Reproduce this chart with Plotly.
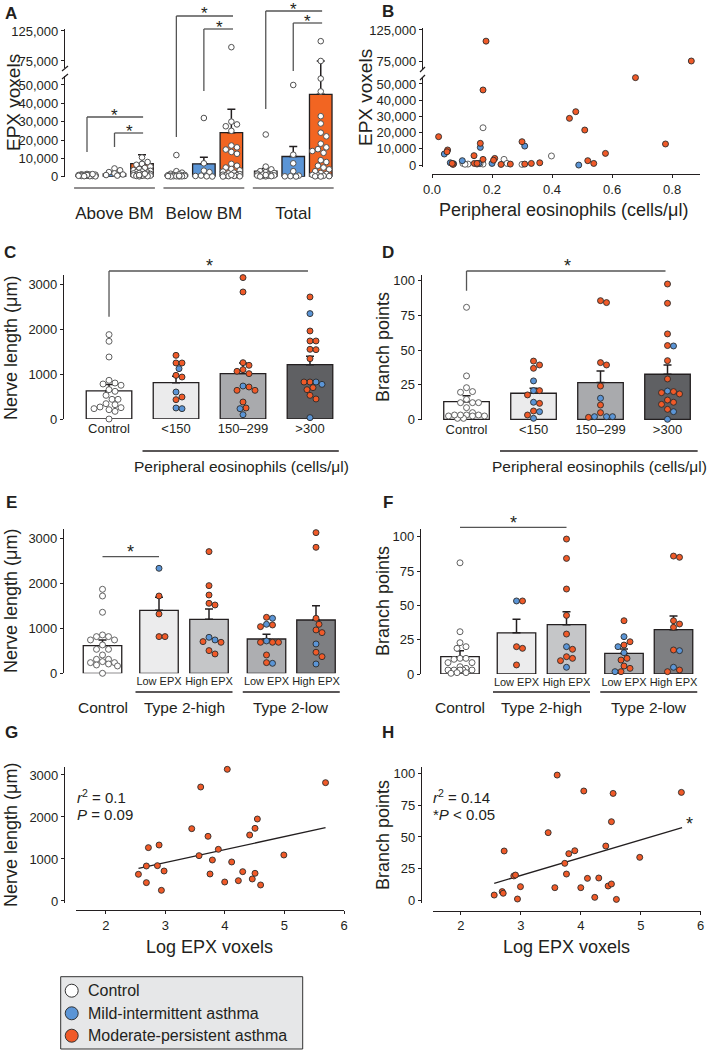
import plotly.graph_objects as go

W, H = 709, 1050
def X(px): return px / W
def Y(py): return 1 - py / H

FONT = "Liberation Sans, Arial, Helvetica, sans-serif"
INK = "#231f20"
BRK = "#555555"
RED = "#f05a28"
BLUE = "#5b95d6"
COL = {"w": "#ffffff", "b": BLUE, "r": RED}
EDG = {"w": "#505050", "b": "#2b2b2b", "r": "#2b2b2b"}

# ======================= DATA =======================
# Panel A: EPX voxels (mean, SEM) per region x group
a_groups = ["Above BM", "Below BM", "Total"]
a_series = ["Control", "Mild-intermittent asthma", "Moderate-persistent asthma"]
a_mean = [[700, 1500, 7100], [1000, 7000, 24000], [3000, 11000, 44900]]
a_sem = [[300, 600, 4900], [1000, 3600, 12800], [1500, 5500, 30100]]
a_above_ctrl = [1500, 1200, 1000, 900, 800, 700, 600, 500, 400, 300, 1300, 1100, 800, 600, 400, 200, 1400, 900, 500, 300]
a_above_mild = [4500, 3500, 2500, 1800, 1200, 900, 600]
a_above_mod = [10500, 8000, 7000, 6500, 5500, 4800, 4200, 3600, 3200, 2800, 2500, 2200, 2000, 1800, 1500,
               1300, 1100, 1000, 800, 700, 600, 500, 400, 300, 200, 900, 1600]
a_below_ctrl = [11800, 3000, 2200, 1600, 1300, 1000, 900, 800, 700, 600, 500, 400, 300, 250, 200, 150, 100, 500, 300]
a_below_mild = [32000, 7300, 3300, 2500, 600, 400, 200, 100]
a_below_mod = [98000, 30000, 28500, 27500, 25000, 17000, 16000, 14800, 13500, 12500, 7000, 6000, 5000, 4200, 3500,
               2800, 2200, 1800, 1400, 1100, 800, 600, 400, 300, 200, 100, 1000]
a_total_ctrl = [23000, 5500, 4000, 3000, 2500, 2000, 1600, 1300, 1000, 800, 700, 600, 500, 400, 300, 200, 1200, 900, 100]
a_total_mild = [50000, 12000, 7300, 3000, 600, 300, 200, 100]
a_total_mod = [108000, 75000, 53500, 46500, 33000, 29000, 24000, 22000, 18000, 16000, 15000, 14000, 13000, 9000,
               8000, 6000, 5000, 4000, 3000, 2000, 1500, 1000, 700, 500, 300, 200, 100]
a_points = [[a_above_ctrl, a_above_mild, a_above_mod],
            [a_below_ctrl, a_below_mild, a_below_mod],
            [a_total_ctrl, a_total_mild, a_total_mod]]

# Panel B: peripheral eosinophils vs EPX voxels
b_x = [0.022, 0.052, 0.05, 0.07, 0.067, 0.14, 0.141, 0.15, 0.161, 0.17, 0.17, 0.18, 0.209, 0.205, 0.23, 0.261,
       0.30, 0.309, 0.331, 0.359, 0.458, 0.479, 0.509, 0.519, 0.539, 0.578, 0.678, 0.778, 0.864,
       0.041, 0.061, 0.101, 0.161, 0.2, 0.309, 0.489, 0.156, 0.072,
       0.17, 0.398, 0.24, 0.25, 0.12, 0.103, 0.17, 0.3, 0.15, 0.11, 0.16]
b_y = [17500, 9300, 8200, 400, 1000, 5800, 1000, 1000, 13400, 3500, 46300, 107000, 4100, 3000, 400, 600,
       14400, 600, 1000, 1400, 28800, 32900, 21600, 2700, 1000, 7200, 53900, 13000, 75000,
       6800, 1400, 2700, 10900, 1000, 11700, 0, 1000, 800,
       23000, 5600, 3500, 1000, 600, 1000, 600, 400, 600, 500, 800]
b_grp = ["r"] * 29 + ["b"] * 9 + ["w"] * 11

# Panel C: nerve length by peripheral eosinophils
c_cats = ["Control", "<150", "150–299", ">300"]
c_mean = [625, 808, 1009, 1208]
c_sem = [140, 142, 236, 185]
c_vals = [
    [1875, 1727, 1378, 860, 800, 778, 750, 652, 615, 526, 437, 437, 341, 318, 267, 252, 230, 207, 170, 0],
    [1415, 1245, 1245, 1119, 970, 933, 600, 489, 430, 245, 230],
    [3142, 2823, 1252, 1193, 1097, 1060, 1008, 733, 711, 637, 637, 378, 245, 230, 96],
    [2712, 2342, 1956, 1734, 1734, 1549, 1541, 1341, 822, 822, 770, 822, 697, 652, 526, 445, 30]]
c_grp = [
    ["w"] * 20,
    list("rrrbrrbrrbb"),
    list("rrrrrrrbrrrrrbb"),
    list("rbrrrrrrrbbrrrrrb")]

# Panel D: branch points by peripheral eosinophils
d_mean = [12.7, 18.8, 26.5, 32.5]
d_sem = [4.3, 3.6, 8.4, 6.7]
d_vals = [
    [80.8, 31.3, 22.8, 20, 19.5, 14.4, 12, 12, 12, 8.4, 4.8, 3.1, 2.4, 2.4, 0.7, 0.7, 2.4, 3.1, 3.1, 3.1],
    [42, 39.2, 36.8, 27.7, 20.7, 20.7, 17.6, 11.5, 12.3, 6, 5.5, 3.1, 0.7],
    [84.2, 85.6, 40.9, 39.2, 24, 15.2, 10.3, 4.8, 1.9, 1.4, 1.9, 1.9],
    [97.6, 83.7, 61.6, 52.9, 53.2, 42.3, 29.1, 20.4, 19.2, 18.3, 20, 13.9, 12.3, 10.8, 7.2, 5.5, 0]]
d_grp = [
    ["w"] * 20,
    list("rrrbbrrrbrbrb"),
    list("rrrrrbrrbrbb"),
    list("rrrbrrrbrrrrrrrbb")]

# Panels E/F: by type-2 status and EPX
e_groups = ["Control", "Type 2-high", "Type 2-low"]
e_sub = ["Low EPX", "High EPX", "Low EPX", "High EPX"]
e_mean = [614, 1400, 1200, 762, 1184]
e_sem = [126, 289, 229, 105, 318]
e_vals = [
    [1867, 1718, 1356, 852, 815, 815, 741, 741, 630, 533, 533, 407, 311, 311, 237, 207, 185, 237, 259, 163, 0],
    [2333, 1718, 1318, 815, 815],
    [2704, 1948, 1740, 1555, 1518, 800, 741, 704, 689, 504, 430],
    [1244, 1222, 1074, 1089, 1037, 689, 719, 689, 689, 407, 222, 237],
    [3126, 2800, 1222, 1089, 963, 904, 652, 467, 370, 207]]
e_grp = [
    ["w"] * 21,
    list("brrrr"),
    list("rrrrrbbrrrr"),
    list("rbrbrrbrrrbr"),
    list("rrrrrrbrrb")]

f_mean = [12.6, 30, 35.9, 15, 32.3]
f_sem = [4.4, 9.8, 9.5, 3.2, 9.9]
f_vals = [
    [81, 30.8, 22.8, 19.9, 18.7, 11.4, 11.4, 10.7, 8.3, 8.3, 5.3, 4.1, 2.9, 2.9, 2.9, 2.9, 2.9, 1, 1, 0.5],
    [53.2, 53.2, 19.9, 18.7, 6.6],
    [98.3, 84.2, 61.9, 42.7, 29.1, 19.9, 18, 12.6, 11.4, 9.7, 4.9],
    [38.8, 27.2, 23.5, 21.1, 19.9, 15.5, 11.4, 10.2, 5.8, 4.1, 1.7, 1.7],
    [85.9, 85, 38.8, 36.4, 34, 17.5, 17, 4.9, 2.9, 1.7]]
f_grp = [
    ["w"] * 20,
    list("brrrr"),
    list("rrrrrbrrrrb"),
    list("rbrrbbrrrrrb"),
    list("rrrrrrbbrr")]

# Panels G/H: log EPX voxels vs nerve length / branch points (moderate-persistent)
g_x = [2.548, 2.682, 2.682, 2.716, 2.867, 2.895, 2.934, 2.979, 3.443, 3.566, 3.594, 3.717, 3.75, 3.79, 3.89,
       3.997, 4.04, 4.114, 4.226, 4.299, 4.416, 4.46, 4.506, 4.506, 4.545, 4.6, 4.99, 5.69]
g_y = [635, 833, 437, 1270, 841, 1333, 254, 714, 1722, 1079, 2714, 1540, 643, 976, 1230,
       452, 3135, 929, 484, 698, 1571, 524, 659, 1730, 1952, 381, 1095, 2817]
g_fit_x = [2.55, 5.69]
g_fit_y = [778, 1745]
h_x = [2.556, 2.689, 2.706, 2.722, 2.883, 2.911, 2.944, 2.994, 3.456, 3.567, 3.606, 3.733, 3.761, 3.8, 3.9,
       4.0, 4.05, 4.111, 4.233, 4.3, 4.417, 4.456, 4.511, 4.511, 4.539, 4.594, 4.983, 5.678]
h_y = [4.4, 7.1, 5.8, 39, 19.4, 20.1, 1.3, 11, 53.4, 10.2, 98.6, 29.3, 20.9, 36.9, 39.2,
       10.2, 86.1, 17.5, 2.6, 17.8, 42.9, 11.5, 13.1, 62, 84.2, 1, 34, 85]
h_fit_x = [2.556, 5.69]
h_fit_y = [13.6, 57.3]

# ======================= LAYOUT HELPERS =======================
A_POS = [[0, 1, 2], [3.25, 4.25, 5.25], [6.5, 7.5, 8.5]]
A_BAR_COL = ["#ffffff", BLUE, "#f26522"]
C_BAR_COL = ["#ffffff", "#ebebec", "#a9aaad", "#5f6063"]
E_POS = [0, 1.13, 2.13, 3.28, 4.27]
E_BAR_COL = ["#ffffff", "#ececed", "#c5c6c8", "#adaeb1", "#7e7f82"]

fig = go.Figure()
shapes, annotations = [], []


def swarm(vals, ppv, ppx, d=6.0, max_off=15):
    placed, offs = [], [0.0] * len(vals)
    step = d * 0.5
    cands = [0.0]
    j = 1
    while j * step <= max_off:
        cands += [j * step, -j * step]
        j += 1
    for i in sorted(range(len(vals)), key=lambda k: -vals[k]):
        y = vals[i] * ppv
        best, bestd = 0.0, -1.0
        for xo in cands:
            md = min([((xo - p) ** 2 + (y - q) ** 2) ** 0.5 for p, q in placed], default=1e9)
            if md >= d:
                best = xo
                break
            if md > bestd:
                best, bestd = xo, md
        placed.append((best, y))
        offs[i] = best / ppx
    return offs


def line(x0, y0, x1, y1, xref="paper", color=INK, width=1.2):
    if xref == "paper":
        x0, x1 = X(x0), X(x1)
    shapes.append(dict(type="line", xref=xref, yref="paper", x0=x0, x1=x1, y0=Y(y0), y1=Y(y1),
                       line=dict(color=color, width=width)))


def text(t, x, y, size=13, xref="paper", xanchor="center", yanchor="middle", angle=0, bold=False):
    if xref == "paper":
        x = X(x)
    if bold:
        t = "<b>%s</b>" % t
    annotations.append(dict(text=t, x=x, y=Y(y), xref=xref, yref="paper", xanchor=xanchor, yanchor=yanchor,
                            textangle=angle, showarrow=False, font=dict(size=size, family=FONT, color=INK)))


def star(x, y, xref, size=18):
    text("*", x, y + 4, size=size, xref=xref)


def add_bars(xa, ya, pos, means, sems, cols, width, cap=4):
    fig.add_trace(go.Bar(x=pos, y=means, width=width, xaxis=xa, yaxis=ya, showlegend=False, hoverinfo="skip",
                         marker=dict(color=cols, line=dict(color=INK, width=1.3)),
                         error_y=dict(type="data", symmetric=False, array=sems, arrayminus=[0] * len(sems),
                                      color=INK, thickness=1.5, width=cap)))


def add_points(xa, ya, xs, ys, grp, size=6):
    fig.add_trace(go.Scatter(x=xs, y=ys, mode="markers", xaxis=xa, yaxis=ya, showlegend=False,
                             hoverinfo="skip", cliponaxis=False,
                             marker=dict(size=size, color=[COL[g] for g in grp],
                                         line=dict(color=[EDG[g] for g in grp], width=0.9))))


def swarm_panel(xa, ya, pos, vals, grps, ppv, ppx, max_off):
    for p, v, g in zip(pos, vals, grps):
        offs = swarm(v, ppv, ppx, max_off=max_off)
        add_points(xa, ya, [p + o for o in offs], v, g)


AX = dict(showgrid=False, zeroline=False, showline=True, linecolor=INK, linewidth=1.2, ticks="outside",
          ticklen=3, tickwidth=1.2, tickcolor=INK, automargin=False, tickangle=0,
          tickfont=dict(size=13, family=FONT, color=INK))


def axis(**kw):
    d = dict(AX)
    d.update(kw)
    return d

# ======================= PANEL A =======================
A_LOW = [0, 54900]
A_HIGH = [63300, 128300]
a_pos_flat = [p for row in A_POS for p in row]
a_mean_flat = [m for row in a_mean for m in row]
a_sem_flat = [s for row in a_sem for s in row]
a_cols_flat = A_BAR_COL * 3
add_bars("x", "y", a_pos_flat, a_mean_flat, a_sem_flat, a_cols_flat, 0.82)
add_bars("x", "y2", a_pos_flat, a_mean_flat, a_sem_flat, a_cols_flat, 0.82)
for gi in range(3):
    for si in range(3):
        v = a_points[gi][si]
        offs = swarm(v, 1.82 / 1000, 27.5, d=5.6, max_off=10)
        xs = [A_POS[gi][si] + o for o in offs]
        lo = [(x, y) for x, y in zip(xs, v) if y < 60000]
        hi = [(x, y) for x, y in zip(xs, v) if y >= 60000]
        for pts, ya in ((lo, "y"), (hi, "y2")):
            if pts:
                fig.add_trace(go.Scatter(x=[p[0] for p in pts], y=[p[1] for p in pts], mode="markers",
                                         xaxis="x", yaxis=ya, showlegend=False, hoverinfo="skip",
                                         cliponaxis=False,
                                         marker=dict(size=5.6, color="#ffffff", line=dict(color="#505050", width=1))))
        # error bar continuing across the axis break
        if a_mean[gi][si] + a_sem[gi][si] > A_LOW[1]:
            line(A_POS[gi][si], 76, A_POS[gi][si], 68, xref="x", width=1.5)

# group underlines and significance brackets
for gi in range(3):
    c = A_POS[gi][1]
    line(c - 1.47, 188, c + 1.47, 188, xref="x", color=INK, width=1.2)
for (xa_, xb_, ylow, ytop, sx, sy) in [(0, 2.04, 152, 117, 1.0, 111), (1, 2.04, 147, 133, 1.55, 128),
                                       (3.25, 5.31, 137, 16, 4.29, 10), (4.25, 5.31, 91, 29, 4.8, 24),
                                       (6.5, 8.55, 109, 11, 7.5, 6), (7.5, 8.55, 71, 23, 8.0, 18)]:
    line(xa_, ylow, xa_, ytop, xref="x", color=BRK, width=1.3)
    line(xa_, ytop, xb_, ytop, xref="x", color=BRK, width=1.3)
    star(sx, sy, "x", size=17)
# axis break marks
line(62, 79, 68, 74, width=1.2)
line(62, 71, 68, 66, width=1.2)

text("A", 11, 13, size=17, bold=True)
text("EPX voxels", 13, 103, size=19, angle=-90)

# ======================= PANEL B =======================
for g in ("w", "b", "r"):
    idx = [i for i, gg in enumerate(b_grp) if gg == g]
    lo = [i for i in idx if b_y[i] < 60000]
    hi = [i for i in idx if b_y[i] >= 60000]
    for sel, ya in ((lo, "y3"), (hi, "y4")):
        if sel:
            add_points("x2", ya, [b_x[i] for i in sel], [b_y[i] for i in sel], [g] * len(sel))
line(420, 80, 425, 75, width=1.2)
line(420, 72, 425, 67, width=1.2)
text("B", 388, 11, size=17, bold=True)
text("EPX voxels", 365, 98, size=19, angle=-90)
text("Peripheral eosinophils (cells/μl)", 563, 210, size=18)

# ======================= PANEL C =======================
C_POS = [0, 1, 2, 3]
add_bars("x3", "y5", C_POS, c_mean, c_sem, C_BAR_COL, 0.68)
swarm_panel("x3", "y5", C_POS, c_vals, c_grp, 0.045, 67, 18)
line(0, 316.7, 0, 271, xref="x3", color=BRK, width=1.3)
line(0, 271, 2.97, 271, xref="x3", color=BRK, width=1.3)
star(1.5, 262, "x3")
line(0.5, 451, 3.43, 451, xref="x3", width=1.5)
text("Peripheral eosinophils (cells/μl)", 1.98, 466, size=15.5, xref="x3")
text("C", 10, 252, size=17, bold=True)
text("Nerve length (μm)", 11, 348, size=18, angle=-90)

# ======================= PANEL D =======================
add_bars("x4", "y6", C_POS, d_mean, d_sem, C_BAR_COL, 0.68)
swarm_panel("x4", "y6", C_POS, d_vals, d_grp, 1.386, 67, 18)
line(0, 290.7, 0, 271, xref="x4", color=BRK, width=1.3)
line(0, 271, 2.97, 271, xref="x4", color=BRK, width=1.3)
star(1.51, 262, "x4")
line(0.5, 451, 3.45, 451, xref="x4", width=1.5)
text("Peripheral eosinophils (cells/μl)", 1.99, 466, size=15.5, xref="x4")
text("D", 388, 253, size=17, bold=True)
text("Branch points", 383, 347, size=18, angle=-90)

# ======================= PANEL E =======================
add_bars("x5", "y7", E_POS, e_mean, e_sem, E_BAR_COL, 0.77)
swarm_panel("x5", "y7", E_POS, e_vals, e_grp, 0.045, 50, 15)
line(0, 556.7, 1.13, 556.7, xref="x5", color=BRK, width=1.3)
star(0.55, 548, "x5")
text("E", 11, 502, size=17, bold=True)
text("Nerve length (μm)", 11, 601, size=18, angle=-90)

# ======================= PANEL F =======================
add_bars("x6", "y8", E_POS, f_mean, f_sem, E_BAR_COL, 0.77)
swarm_panel("x6", "y8", E_POS, f_vals, f_grp, 1.373, 50, 15)
line(0, 527.3, 2.13, 527.3, xref="x6", color=BRK, width=1.3)
star(1.06, 519, "x6")
text("F", 388, 502, size=17, bold=True)
text("Branch points", 383, 601, size=18, angle=-90)

for xa_ in ("x5", "x6"):
    centers = [E_POS[0], (E_POS[1] + E_POS[2]) / 2, (E_POS[3] + E_POS[4]) / 2]
    for k, (name, cx) in enumerate(zip(e_groups, centers)):
        if k > 0:
            line(cx - 0.97, 692, cx + 0.97, 692, xref=xa_, width=1.5)
        text(name, cx, 707, size=15.5, xref=xa_)

# ======================= PANEL G =======================
fig.add_trace(go.Scatter(x=g_fit_x, y=g_fit_y, mode="lines", xaxis="x7", yaxis="y9", showlegend=False,
                         hoverinfo="skip", line=dict(color=INK, width=1.3)))
add_points("x7", "y9", g_x, g_y, ["r"] * len(g_x))
text("<i>r</i><sup>2</sup> = 0.1", 75, 796, size=15, xanchor="left")
text("<i>P</i> = 0.09", 75, 814, size=15, xanchor="left")
text("G", 11, 732, size=17, bold=True)
text("Nerve length (μm)", 11, 835, size=18, angle=-90)
text("Log EPX voxels", 209, 947, size=18)

# ======================= PANEL H =======================
fig.add_trace(go.Scatter(x=h_fit_x, y=h_fit_y, mode="lines", xaxis="x8", yaxis="y10", showlegend=False,
                         hoverinfo="skip", line=dict(color=INK, width=1.3)))
add_points("x8", "y10", h_x, h_y, ["r"] * len(h_x))
text("<i>r</i><sup>2</sup> = 0.14", 431, 796, size=15, xanchor="left")
text("*<i>P</i> &lt; 0.05", 431, 814, size=15, xanchor="left")
star(689, 820, "paper")
text("H", 388, 732, size=17, bold=True)
text("Branch points", 383, 835, size=18, angle=-90)
text("Log EPX voxels", 566, 947, size=18)

# ======================= LEGEND (drawn) =======================
shapes.append(dict(type="rect", xref="paper", yref="paper", x0=X(60.7), x1=X(302.7), y0=Y(1049), y1=Y(976.7),
                   fillcolor="#e6e7e8", line=dict(color="#333333", width=1)))
leg_fill = ["#ffffff", BLUE, RED]
for k, (name, yy) in enumerate(zip(a_series, [990.7, 1013.3, 1035.7])):
    r = 6.5
    shapes.append(dict(type="circle", xref="paper", yref="paper", x0=X(71.7 - r), x1=X(71.7 + r),
                       y0=Y(yy + r), y1=Y(yy - r), fillcolor=leg_fill[k], line=dict(color="#333333", width=1)))
    text(name, 86, yy, size=16, xanchor="left")

# ======================= AXES =======================
layout_axes = dict(
    # A
    xaxis=axis(domain=[X(65), X(340)], range=[-0.8, 9.2], anchor="y", showline=False, ticks="",
               tickvals=[A_POS[i][1] for i in range(3)], ticktext=a_groups, ticklabelstandoff=24,
               tickfont=dict(size=17, family=FONT, color=INK)),
    yaxis=axis(domain=[Y(176.7), Y(76)], range=A_LOW, anchor="x", tickvals=[0, 10000, 20000, 30000, 40000, 50000],
               tickformat=",d"),
    yaxis2=axis(domain=[Y(68), Y(29)], range=A_HIGH, anchor="x", tickvals=[75000, 125000], tickformat=",d"),
    # B
    xaxis2=axis(domain=[X(432), X(700)], range=[0, 0.893], anchor="free", position=Y(174),
                tickvals=[0, 0.2, 0.4, 0.6, 0.8], tickformat=".1f"),
    yaxis3=axis(domain=[Y(167), Y(77)], range=[-1200, 54300], anchor="free", position=X(422),
                tickvals=[0, 10000, 20000, 30000, 40000, 50000], tickformat=",d"),
    yaxis4=axis(domain=[Y(70), Y(28)], range=[60500, 128200], anchor="free", position=X(422),
                tickvals=[75000, 125000], tickformat=",d"),
    # C
    xaxis3=axis(domain=[X(64), X(340)], range=[-0.672, 3.448], anchor="y5", showline=False, ticks="",
                tickvals=C_POS, ticktext=c_cats),
    yaxis5=axis(domain=[Y(419), Y(275)], range=[0, 3200], anchor="x3", tickvals=[0, 1000, 2000, 3000]),
    # D
    xaxis4=axis(domain=[X(421.7), X(700)], range=[-0.669, 3.485], anchor="y6", showline=False, ticks="",
                tickvals=C_POS, ticktext=c_cats),
    yaxis6=axis(domain=[Y(420), Y(275)], range=[-0.5, 104.1], anchor="x4", tickvals=[0, 25, 50, 75, 100]),
    # E
    xaxis5=axis(domain=[X(64), X(343)], range=[-0.77, 4.81], anchor="y7", showline=False, ticks="",
                tickvals=E_POS[1:], ticktext=e_sub, tickfont=dict(size=11, family=FONT, color=INK)),
    yaxis7=axis(domain=[Y(673.3), Y(529.3)], range=[0, 3200], anchor="x5", tickvals=[0, 1000, 2000, 3000]),
    # F
    xaxis6=axis(domain=[X(421), X(700)], range=[-0.78, 4.8], anchor="y8", showline=False, ticks="",
                tickvals=E_POS[1:], ticktext=e_sub, tickfont=dict(size=11, family=FONT, color=INK)),
    yaxis8=axis(domain=[Y(674), Y(529.3)], range=[0, 105.4], anchor="x6", tickvals=[0, 25, 50, 75, 100]),
    # G
    xaxis7=axis(domain=[X(76), X(344)], range=[1.5, 6.0], anchor="free", position=Y(910),
                tickvals=[2, 3, 4, 5, 6]),
    yaxis9=axis(domain=[Y(903), Y(767.3)], range=[-48, 3183], anchor="free", position=X(64),
                tickvals=[0, 1000, 2000, 3000]),
    # H
    xaxis8=axis(domain=[X(432.7), X(700.7)], range=[1.53, 6.0], anchor="free", position=Y(910.7),
                tickvals=[2, 3, 4, 5, 6]),
    yaxis10=axis(domain=[Y(902.7), Y(767.3)], range=[-1.6, 104.7], anchor="free", position=X(421),
                 tickvals=[0, 25, 50, 75, 100]),
)

fig.update_layout(template="none", width=W, height=H, margin=dict(l=0, r=0, t=0, b=0, autoexpand=False),
                  paper_bgcolor="white", plot_bgcolor="white", showlegend=False, shapes=shapes,
                  annotations=annotations, font=dict(family=FONT, color=INK), **layout_axes)
fig.write_html("out.html", config={"displayModeBar": False},
               post_script="document.body.style.margin='0';document.body.style.padding='0';"
                           "document.body.style.overflow='hidden';")
